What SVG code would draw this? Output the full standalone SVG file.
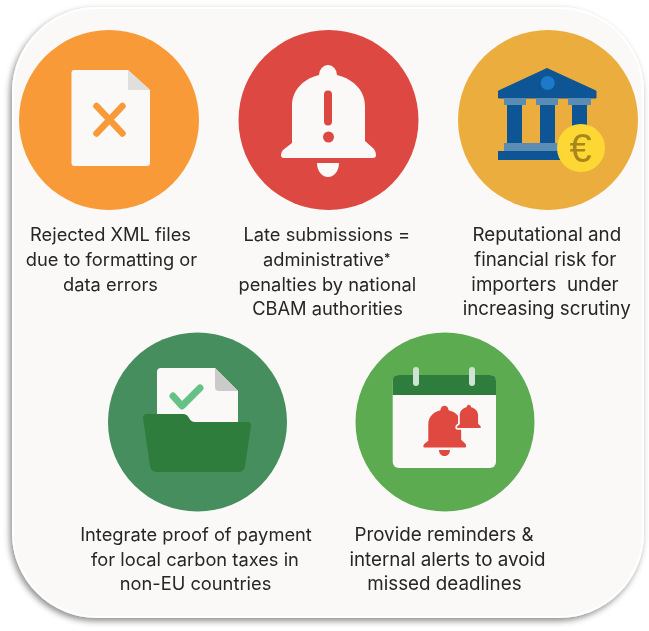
<svg xmlns="http://www.w3.org/2000/svg" xmlns:xlink="http://www.w3.org/1999/xlink" width="649" height="631" viewBox="0 0 649 631">
<style>
text{font-family:Inter,"Noto Sans","Liberation Sans",sans-serif;font-size:18.3px;fill:#262626;text-anchor:middle}
.w{font-size:18.8px}
</style>
<defs>
<filter id="sh" x="-5%" y="-5%" width="110%" height="110%"><feDropShadow dx="-2" dy="3" stdDeviation="3" flood-color="#000" flood-opacity=".45"/></filter>
<filter id="soft" x="-5%" y="-5%" width="110%" height="110%"><feGaussianBlur stdDeviation=".35"/></filter>
<path id="bell" d="M-36-15V-52C-36-70-22-80-9-83A9 10 0 0 1 9-83C22-80 37-70 37-52V-17L46-9Q48-6 48-3 48 0 45 0H-44Q-47 0-47-3-47-6-45-8Z"/>
</defs>
<rect id="panel" x="13" y="8" width="630" height="609" rx="84" fill="#faf9f7" stroke="#fff" stroke-width="2" filter="url(#sh)"/>
<g id="connectors"/>
<g id="rejected" filter="url(#soft)">
<circle cx="109" cy="120" r="90" fill="#f99a38"/>
<path d="M74 70H128L150 90V163Q150 166 147 166H74Q71.500 166 71.500 163V73Q71.500 70 74 70Z" fill="#faf9f7"/>
<path d="M128 70L150 90H128Z" fill="#dfdfdd"/>
<path d="M96.500 106L122.500 133.500M122.500 106L96.500 133.500" stroke="#f99a38" stroke-width="6.500" stroke-linecap="round" fill="none"/>
<text x="110.500" y="241">Rejected XML files</text>
<text x="111.500" y="266">due to formatting or</text>
<text x="110.500" y="291">data errors</text>
</g>
<g id="late" filter="url(#soft)">
<circle cx="328.500" cy="120" r="90" fill="#dd4a42"/>
<g fill="#faf9f7">
<use xlink:href="#bell" href="#bell" transform="translate(328 158)"/>
<path d="M317 163H339C339 171 334 177 328 177 322 177 317 171 317 163Z"/>
</g>
<rect x="324" y="90.500" width="8" height="35" rx="4" fill="#dd4a42"/>
<circle cx="328.500" cy="137" r="5.500" fill="#dd4a42"/>
<text x="326.800" y="241">Late submissions =</text>
<text x="326.700" y="266">administrative<tspan font-size="12" font-weight="600" dy="-4">*</tspan></text>
<text x="327.300" y="291">penalties by national</text>
<text x="327.500" y="315">CBAM authorities</text>
</g>
<g id="reputational" filter="url(#soft)">
<circle cx="548" cy="120" r="90" fill="#ebad3e"/>
<path d="M547 68.500L596 91V98H498.500V91Z" fill="#0f5595" stroke="#0f5595" stroke-linejoin="round"/>
<circle cx="547.700" cy="83" r="7" fill="#1c7ac8"/>
<g fill="#5a8cb4"><rect x="504" y="98" width="22" height="7"/><rect x="536" y="98" width="22" height="7"/><rect x="568" y="98" width="23" height="7"/><rect x="504" y="143" width="71" height="8"/></g>
<g fill="#0f5595"><rect x="507" y="105" width="15" height="38"/><rect x="540" y="105" width="15" height="38"/><rect x="572" y="105" width="15" height="38"/><rect x="498" y="151" width="72" height="9"/></g>
<circle cx="581" cy="148" r="24" fill="#fdd835"/>
<text x="580.500" y="162" style="font-size:40px;fill:#a8861a;font-family:'Liberation Sans',sans-serif">€</text>
<text class="w" x="546.800" y="241">Reputational and</text>
<text class="w" x="545.300" y="266">financial risk for</text>
<text class="w" x="545" y="291" xml:space="preserve">importers  under</text>
<text class="w" x="546.700" y="315">increasing scrutiny</text>
</g>
<g id="integrate" filter="url(#soft)">
<circle cx="197.500" cy="422" r="89.500" fill="#468e5f"/>
<path d="M161 368H215L238 391V424H157V372Q157 368 161 368Z" fill="#faf9f7"/>
<path d="M215 368L238 391H219Q215 391 215 387Z" fill="#cbcbca"/>
<path d="M173 396L182 406L200 388" stroke="#66c184" stroke-width="7" stroke-linecap="round" stroke-linejoin="round" fill="none"/>
<path d="M147 414H183Q187 414 189 418Q191 422 195 422H248Q251 422 251 426L245 466Q244 472 238 472H157Q151 472 150 466L143 418Q143 414 147 414Z" fill="#2e7d3c"/>
<text x="196" y="541">Integrate proof of payment</text>
<text x="195" y="566">for local carbon taxes in</text>
<text x="195.500" y="590">non-EU countries</text>
</g>
<g id="reminders" filter="url(#soft)">
<circle cx="445" cy="422" r="89.500" fill="#5cab51"/>
<rect x="392.700" y="375" width="103.300" height="93" rx="6" fill="#faf9f7"/>
<path d="M392.700 395V381Q392.700 375 398.700 375H490Q496 375 496 381V395Z" fill="#2e7d3c"/>
<rect x="413" y="367" width="6" height="19" rx="3" fill="#cfe3d2"/>
<rect x="469" y="367" width="6" height="19" rx="3" fill="#cfe3d2"/>
<g fill="#e0483f">
<use xlink:href="#bell" href="#bell" transform="translate(444.500 447.500) scale(.45)"/>
<path d="M439 450H450C450 454 447 456 444.500 456 442 456 439 454 439 450Z"/>
<use xlink:href="#bell" href="#bell" transform="translate(468.800 428) scale(.25)" stroke="#faf9f7" stroke-width="14" paint-order="stroke"/>
</g>
<text class="w" x="444" y="541">Provide reminders &amp;</text>
<text class="w" x="447.500" y="566">internal alerts to avoid</text>
<text class="w" x="444.400" y="590">missed deadlines</text>
</g>
</svg>
